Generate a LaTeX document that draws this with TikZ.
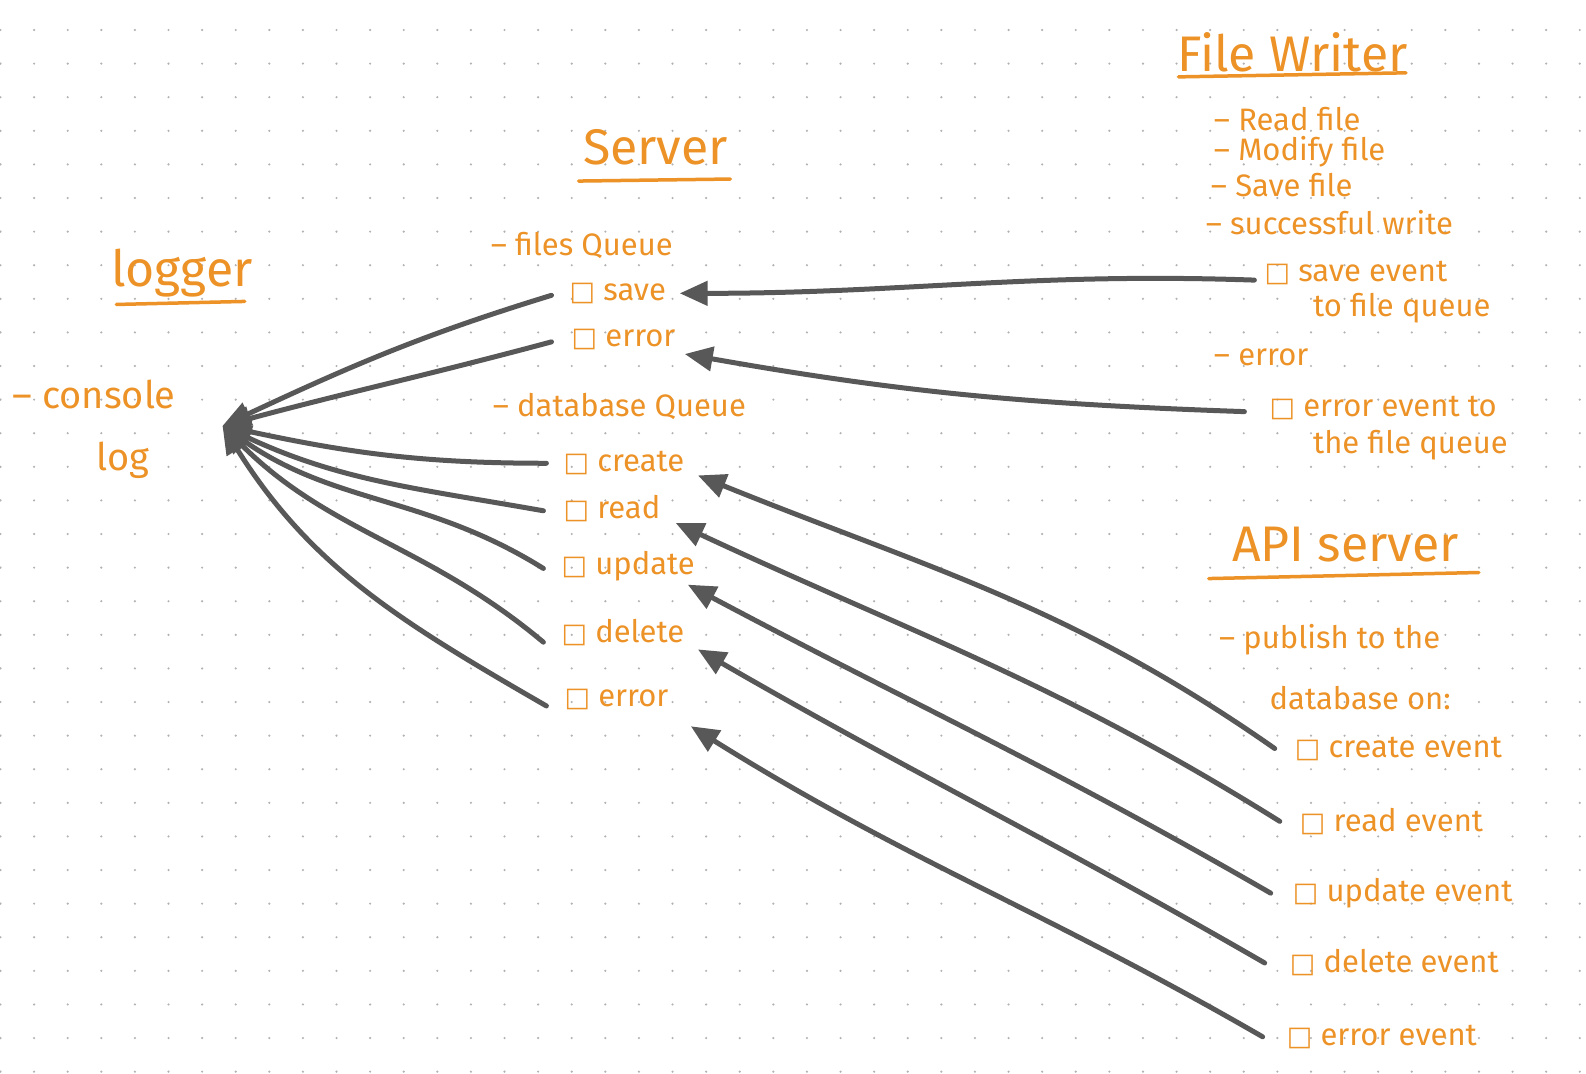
\documentclass[tikz,border=0pt]{standalone}
\usepackage{fontspec}
\setmainfont{Fira Sans}
\newfontfamily\symfont{DejaVu Sans}
\usetikzlibrary{arrows.meta}
\definecolor{ink}{RGB}{236,146,38}
\definecolor{pen}{RGB}{88,88,88}
\newcommand{\cbox}{{\symfont\fontsize{27}{29}\selectfont □}}
\tikzset{
  txt/.style={text=ink, anchor=west, inner sep=0pt, font=\fontsize{31}{34}\selectfont},
  bigtxt/.style={txt, font=\fontsize{38}{42}\selectfont},
  head/.style={text=ink, inner sep=0pt, font=\fontsize{50}{54}\selectfont},
  uline/.style={draw=ink, line width=3.5pt, line cap=round},
  conn/.style={draw=pen, line width=5pt, line cap=round, -{Triangle[length=28pt,width=24pt]}},
}
\begin{document}
\begin{tikzpicture}[x=1.0115pt,y=-1.0115pt]
\useasboundingbox (0,0) rectangle (1568,1061);
\fill[white] (0,0) rectangle (1568,1061);
% dot grid
\foreach \i in {0,...,47}{
  \foreach \j in {0,...,31}{
    \fill[black!30] (33.22*\i+0.5, 29.66+33.22*\j) circle (1.2pt);
  }
}
% Server
\node[head] (server) at (648,146) {Server};
\draw[uline] (572,179) -- (722,177);
\node[txt] (fq) at (485,243) {–  files  Queue};
\node[txt] (ssave) at (563,290) {\cbox\ save};
\node[txt] (serr) at (565,336) {\cbox\ error};
\node[txt] (dq) at (487,402) {–  database  Queue};
\node[txt] (screate) at (557,458) {\cbox\ create};
\node[txt] (sread) at (557,503) {\cbox\ read};
\node[txt] (supdate) at (555,560) {\cbox\ update};
\node[txt] (sdelete) at (555,625) {\cbox\ delete};
\node[txt] (serror) at (558,692) {\cbox\ error};
% logger
\node[head] (logger) at (180,270) {logger};
\draw[uline] (115,301) -- (242,298);
\node[bigtxt] (console) at (12,390) {–  console};
\node[bigtxt] (log) at (95,455) {log};
\coordinate (logtip) at (220,421);
% File Writer
\node[head] (fw) at (1278,52) {File  Writer};
\draw[uline] (1165,76) -- (1390,72);
\node[txt] (fw1) at (1200,118) {–  Read  file};
\node[txt] (fw2) at (1200,150) {–  Modify  file};
\node[txt] (fw3) at (1197,183) {–  Save  file};
\node[txt] (fw4) at (1192,220) {–  successful  write};
\node[txt] (fw5) at (1250,270) {\cbox\ save  event};
\node[txt] (fw6) at (1298,305) {to  file  queue};
\node[txt] (fw7) at (1200,353) {–  error};
\node[txt] (fw8) at (1255,403) {\cbox\ error  event  to};
\node[txt] (fw9) at (1298,440) {the  file  queue};
% API server
\node[head] (api) at (1330,538) {API  server};
\draw[uline] (1195,572) -- (1462,566);
\node[txt] (a1) at (1205,632) {–  publish  to  the};
\node[txt] (a2) at (1255,690) {database  on:};
\node[txt] (a3) at (1280,740) {\cbox\ create  event};
\node[txt] (a4) at (1285,812) {\cbox\ read  event};
\node[txt] (a5) at (1278,883) {\cbox\ update  event};
\node[txt] (a6) at (1275,952) {\cbox\ delete  event};
\node[txt] (a7) at (1272,1025) {\cbox\ error  event};
% connectors to logger
\draw[conn] ([xshift=-18pt,yshift=-2pt]ssave.west) to[out=197,in=25] (logtip);
\draw[conn] ([xshift=-20pt,yshift=-2pt]serr.west) to[out=195,in=15] (logtip);
\draw[conn] ([xshift=-17pt]screate.west) to[out=180,in=-12] (logtip);
\draw[conn] ([xshift=-20pt,yshift=-2pt]sread.west) to[out=170,in=-25] (logtip);
\draw[conn] ([xshift=-18pt,yshift=-2pt]supdate.west) to[out=148,in=-35] (logtip);
\draw[conn] ([xshift=-18pt,yshift=-10pt]sdelete.west) to[out=140,in=-45] (logtip);
\draw[conn] ([xshift=-18pt,yshift=-6pt]serror.west) to[out=150,in=-58] (logtip);
% connectors from File Writer
\draw[conn] ([xshift=-10pt,yshift=-7pt]fw5.west) to[out=178,in=0] (672,290);
\draw[conn] ([xshift=-25pt,yshift=-4pt]fw8.west) to[out=178,in=-10] (677,350);
% connectors from API server
\draw[conn] ([xshift=-20pt]a3.west) to[out=145,in=-22] (690,470);
\draw[conn] ([xshift=-20pt]a4.west) to[out=148,in=-25] (668,517);
\draw[conn] ([xshift=-22pt]a5.west) to[out=150,in=-28] (680,578);
\draw[conn] ([xshift=-25pt]a6.west) to[out=150,in=-30] (690,642);
\draw[conn] ([xshift=-24pt]a7.west) to[out=150,in=-32] (683,718);
\end{tikzpicture}
\end{document}
